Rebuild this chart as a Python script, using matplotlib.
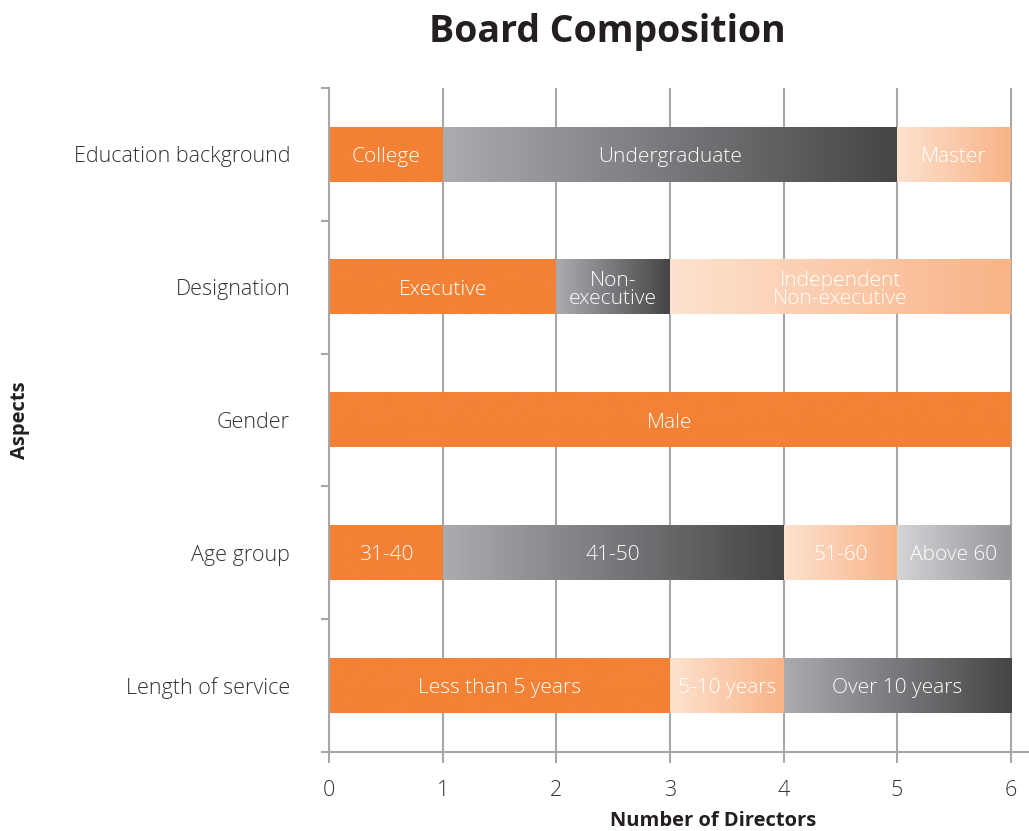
import numpy as np
import matplotlib
matplotlib.use("Agg")
import matplotlib.pyplot as plt
from matplotlib.colors import LinearSegmentedColormap

# categories, bottom to top
aspects = ["Length of service", "Age group", "Gender", "Designation", "Education background"]

# segments per aspect: (label, value, style)
segments = {
    "Education background": [("College", 1, "orange"), ("Undergraduate", 4, "gray"), ("Master", 1, "peach")],
    "Designation": [("Executive", 2, "orange"), ("Non-\nexecutive", 1, "gray"),
                    ("Independent\nNon-executive", 3, "peach")],
    "Gender": [("Male", 6, "orange")],
    "Age group": [("31-40", 1, "orange"), ("41-50", 3, "gray"), ("51-60", 1, "peach"),
                  ("Above 60", 1, "lightgray")],
    "Length of service": [("Less than 5 years", 3, "orange"), ("5-10 years", 1, "peach"),
                          ("Over 10 years", 2, "gray")],
}

x_ticks = [0, 1, 2, 3, 4, 5, 6]

# fill styles: solid colour or left->right gradient
styles = {
    "orange": ["#f48135", "#f48135"],
    "gray": ["#aaacaf", "#454547"],
    "peach": ["#fde2cf", "#f8b386"],
    "lightgray": ["#d3d4d6", "#96979a"],
}

plt.rcParams["font.family"] = ["Open Sans", "DejaVu Sans"]

fig = plt.figure(figsize=(10.29, 8.31), dpi=100)
ax = fig.add_axes([329 / 1029, 79 / 831, 700 / 1029, 664 / 831])

bar_h = 0.41
grad = np.linspace(0, 1, 256).reshape(1, -1)

for yi, aspect in enumerate(aspects):
    left = 0
    for label, val, style in segments[aspect]:
        c0, c1 = styles[style]
        cmap = LinearSegmentedColormap.from_list(style, [c0, c1])
        ax.imshow(grad, cmap=cmap, aspect="auto", interpolation="bicubic",
                  extent=[left, left + val, yi - bar_h / 2, yi + bar_h / 2], zorder=2)
        ax.text(left + val / 2, yi - 0.02, label, ha="center", va="center", color="white",
                fontsize=15, fontweight="light", linespacing=0.85, zorder=3)
        left += val

ax.set_xlim(0, 6.16)
ax.set_ylim(-0.5, len(aspects) - 0.5)

# grid
for x in x_ticks:
    ax.axvline(x, color="#a7a7a7", lw=1.5, zorder=1)

ax.set_xticks(x_ticks)
ax.set_xticklabels([str(x) for x in x_ticks])
ax.set_yticks(range(len(aspects)))
ax.set_yticklabels(aspects)
ax.set_yticks(np.arange(-0.5, len(aspects), 1), minor=True)

for lab in ax.get_xticklabels() + ax.get_yticklabels():
    lab.set_fontweight("light")

ax.tick_params(axis="x", direction="out", length=8, width=1.5, color="#a7a7a7",
               pad=12, labelsize=15.5, labelcolor="#333333")
ax.tick_params(axis="y", which="major", length=0, pad=28, labelsize=15.5, labelcolor="#333333")
ax.tick_params(axis="y", which="minor", direction="out", length=6, width=1.5, color="#a7a7a7")

for s in ["top", "right"]:
    ax.spines[s].set_visible(False)
for s in ["left", "bottom"]:
    ax.spines[s].set_color("#a7a7a7")
    ax.spines[s].set_linewidth(1.5)

fig.text(607 / 1029, 1 - 32 / 831, "Board Composition", ha="center", va="center",
         fontsize=27, fontweight="bold", color="#231f20")
fig.text(713 / 1029, 1 - 821 / 831, "Number of Directors", ha="center", va="center",
         fontsize=14.5, fontweight="bold", color="#231f20")
fig.text(20 / 1029, 1 - 420 / 831, "Aspects", ha="center", va="center", rotation=90,
         fontsize=14.5, fontweight="bold", color="#231f20")

fig.savefig("out.png", dpi=100)
